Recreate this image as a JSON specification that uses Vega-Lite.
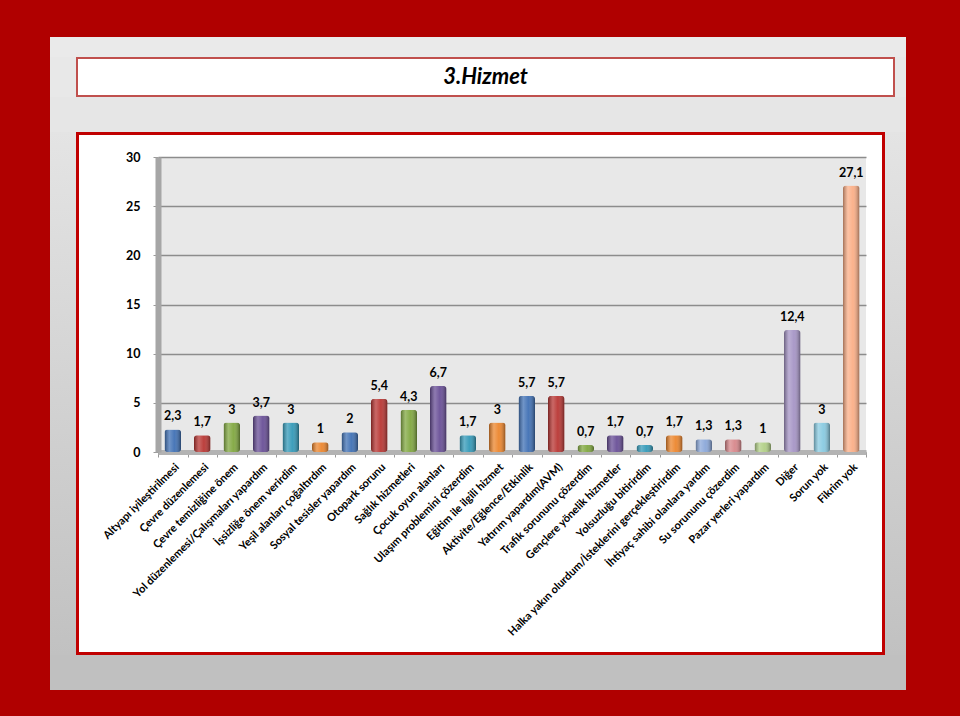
{
  "$schema": "https://vega.github.io/schema/vega-lite/v6.json",
  "padding": 0,
  "background": "white",
  "spacing": 0,
  "config": {
    "locale": {"number": {"decimal": ",", "thousands": ".", "grouping": [3], "currency": ["", " TL"]}},
    "concat": {"spacing": 0},
    "view": {"stroke": null},
    "font": "Lato"
  },
  "datasets": {
    "main": [
      {"cat": "Altyapı iyileştirilmesi", "value": 2.3},
      {"cat": "Çevre düzenlemesi", "value": 1.7},
      {"cat": "Çevre temizliğine önem", "value": 3},
      {"cat": "Yol düzenlemesi/Çalışmaları yapardım", "value": 3.7},
      {"cat": "İşsizliğe önem verirdim", "value": 3},
      {"cat": "Yeşil alanları çoğaltırdım", "value": 1},
      {"cat": "Sosyal tesisler yapardım", "value": 2},
      {"cat": "Otopark sorunu", "value": 5.4},
      {"cat": "Sağlık hizmetleri", "value": 4.3},
      {"cat": "Çocuk oyun alanları", "value": 6.7},
      {"cat": "Ulaşım problemini çözerdim", "value": 1.7},
      {"cat": "Eğitim ile ilgili hizmet", "value": 3},
      {"cat": "Aktivite/Eğlence/Etkinlik", "value": 5.7},
      {"cat": "Yatırım yapardım(AVM)", "value": 5.7},
      {"cat": "Trafik sorununu çözerdim", "value": 0.7},
      {"cat": "Gençlere yönelik hizmetler", "value": 1.7},
      {"cat": "Yolsuzluğu bitirirdim", "value": 0.7},
      {"cat": "Halka yakın olurdum/İsteklerini gerçekleştirirdim", "value": 1.7},
      {"cat": "İhtiyaç sahibi olanlara yardım", "value": 1.3},
      {"cat": "Su sorununu çözerdim", "value": 1.3},
      {"cat": "Pazar yerleri yapardım", "value": 1},
      {"cat": "Diğer", "value": 12.4},
      {"cat": "Sorun yok", "value": 3},
      {"cat": "Fikrim yok", "value": 27.1}
    ]
  },
  "vconcat": [
    {"width": 960, "height": 37, "data": {"values": []}, "mark": "text", "view": {"fill": "#b00000", "stroke": null}},
    {
      "spacing": 0,
      "hconcat": [
        {"width": 50, "height": 653, "data": {"values": []}, "mark": "text", "view": {"fill": "#b00000", "stroke": null}},
        {
          "spacing": 0,
          "vconcat": [
            {"width": 856, "height": 20, "data": {"values": []}, "mark": "text", "view": {"fill": "#eaeaea", "stroke": null}},
            {
              "spacing": 0,
              "hconcat": [
                {"width": 26, "height": 40, "data": {"values": []}, "mark": "text", "view": {"fill": "#e8e8e8", "stroke": null}},
                {
                  "spacing": 0,
                  "vconcat": [
                    {"width": 819, "height": 2, "data": {"values": []}, "mark": "text", "view": {"fill": "#c0504d", "stroke": null}},
                    {
                      "spacing": 0,
                      "hconcat": [
                        {"width": 2, "height": 36, "data": {"values": []}, "mark": "text", "view": {"fill": "#c0504d", "stroke": null}},
                        {
                          "width": 815, "height": 36,
                          "view": {"fill": "white", "stroke": null},
                          "data": {"values": [{"t": "3.Hizmet"}]},
                          "mark": {"type": "text", "font": "Lato", "fontSize": 22, "fontWeight": "bold", "fontStyle": "italic", "color": "black", "align": "center", "baseline": "middle"},
                          "encoding": {"text": {"field": "t", "type": "nominal"}}
                        },
                        {"width": 2, "height": 36, "data": {"values": []}, "mark": "text", "view": {"fill": "#c0504d", "stroke": null}}
                      ]
                    },
                    {"width": 819, "height": 2, "data": {"values": []}, "mark": "text", "view": {"fill": "#c0504d", "stroke": null}}
                  ]
                },
                {"width": 11, "height": 40, "data": {"values": []}, "mark": "text", "view": {"fill": "#e8e8e8", "stroke": null}}
              ]
            },
            {"width": 856, "height": 35, "data": {"values": []}, "mark": "text", "view": {"fill": "#e6e6e6", "stroke": null}},
            {
              "spacing": 0,
              "hconcat": [
                {
                  "width": 26, "height": 523, "data": {"values": [{}]}, "view": {"stroke": null},
                  "mark": {"type": "rect", "fill": {"gradient": "linear", "x1": 0, "x2": 0, "y1": 0, "y2": 1, "stops": [{"offset": 0, "color": "#e4e4e4"}, {"offset": 1, "color": "#c1c1c1"}]}}
                },
                {
                  "spacing": 0,
                  "vconcat": [
                    {"width": 809, "height": 3, "data": {"values": []}, "mark": "text", "view": {"fill": "#c00000", "stroke": null}},
                    {
                      "spacing": 0,
                      "hconcat": [
                        {"width": 3, "height": 517, "data": {"values": []}, "mark": "text", "view": {"fill": "#c00000", "stroke": null}},
                        {
                          "spacing": 0, "bounds": "flush", "columns": 3,
                          "concat": [
                            {"width": 79, "height": 22, "data": {"values": []}, "mark": "text", "view": {"stroke": null}},
                            {"width": 708, "height": 22, "data": {"values": []}, "mark": "text", "view": {"stroke": null}},
                            {"width": 16, "height": 22, "data": {"values": []}, "mark": "text", "view": {"stroke": null}},
                            {"width": 79, "height": 295, "data": {"values": []}, "mark": "text", "view": {"stroke": null}},
                            {
                              "width": 708, "height": 295,
                              "view": {"fill": "#e8e8e8", "stroke": null},
                              "data": {"name": "main"},
                              "encoding": {
                                "x": {
                                  "field": "cat", "type": "nominal", "sort": null,
                                  "scale": {"paddingInner": 0, "paddingOuter": 0},
                                  "axis": {
                                    "title": null, "labelAngle": -45, "labelFont": "Lato", "labelFontWeight": "bold",
                                    "labelFontSize": 11, "labelColor": "#000", "tickBand": "extent", "tickColor": "#999",
                                    "tickSize": 5, "domainColor": "#b3b3b3", "domainWidth": 5, "labelPadding": 4,
                                    "labelLimit": 400, "grid": false
                                  }
                                },
                                "y": {
                                  "field": "value", "type": "quantitative",
                                  "scale": {"domain": [0, 30]},
                                  "axis": {
                                    "title": null, "values": [0, 5, 10, 15, 20, 25, 30], "format": "d",
                                    "labelFont": "Lato", "labelFontWeight": "bold", "labelFontSize": 12.5,
                                    "labelColor": "#000", "gridColor": "#8c8c8c", "gridWidth": 1.5,
                                    "tickColor": "#999", "tickSize": 5, "domainColor": "#a6a6a6", "domainWidth": 6,
                                    "labelPadding": 13
                                  }
                                }
                              },
                              "layer": [
                                {
                                  "mark": {"type": "bar", "width": {"band": 0.56}, "cornerRadius": 3},
                                  "encoding": {
                                    "color": {
                                      "field": "cat", "type": "nominal", "sort": null, "legend": null,
                                      "scale": {"range": ["#3f70b4", "#b83532", "#80a73f", "#684e96", "#3399b8", "#ec852c", "#3f70b4", "#b83532", "#80a73f", "#684e96", "#3399b8", "#ec852c", "#3f70b4", "#b83532", "#80a73f", "#684e96", "#3399b8", "#ec852c", "#8aa7d9", "#d7868a", "#b1cf86", "#a594c5", "#88cae1", "#fbae86"]}
                                    }
                                  }
                                },
                                {
                                  "mark": {
                                    "type": "bar", "width": {"band": 0.56}, "cornerRadius": 3,
                                    "fill": {
                                      "gradient": "linear", "x1": 0, "x2": 1, "y1": 0, "y2": 0,
                                      "stops": [
                                        {"offset": 0, "color": "rgba(0,0,0,0.35)"},
                                        {"offset": 0.3, "color": "rgba(255,255,255,0.25)"},
                                        {"offset": 0.6, "color": "rgba(255,255,255,0.05)"},
                                        {"offset": 1, "color": "rgba(0,0,0,0.4)"}
                                      ]
                                    }
                                  }
                                },
                                {
                                  "mark": {"type": "text", "baseline": "bottom", "dy": -6, "font": "Lato", "fontWeight": "bold", "fontSize": 12.5, "color": "black"},
                                  "encoding": {"text": {"field": "value", "type": "quantitative", "format": ".1~f"}}
                                }
                              ]
                            },
                            {"width": 16, "height": 295, "data": {"values": []}, "mark": "text", "view": {"stroke": null}},
                            {"width": 79, "height": 200, "data": {"values": []}, "mark": "text", "view": {"stroke": null}},
                            {"width": 708, "height": 200, "data": {"values": []}, "mark": "text", "view": {"stroke": null}},
                            {"width": 16, "height": 200, "data": {"values": []}, "mark": "text", "view": {"stroke": null}}
                          ]
                        },
                        {"width": 3, "height": 517, "data": {"values": []}, "mark": "text", "view": {"fill": "#c00000", "stroke": null}}
                      ]
                    },
                    {"width": 809, "height": 3, "data": {"values": []}, "mark": "text", "view": {"fill": "#c00000", "stroke": null}}
                  ]
                },
                {
                  "width": 21, "height": 523, "data": {"values": [{}]}, "view": {"stroke": null},
                  "mark": {"type": "rect", "fill": {"gradient": "linear", "x1": 0, "x2": 0, "y1": 0, "y2": 1, "stops": [{"offset": 0, "color": "#e4e4e4"}, {"offset": 1, "color": "#c1c1c1"}]}}
                }
              ]
            },
            {"width": 856, "height": 35, "data": {"values": []}, "mark": "text", "view": {"fill": "#c0c0c0", "stroke": null}}
          ]
        },
        {"width": 54, "height": 653, "data": {"values": []}, "mark": "text", "view": {"fill": "#b00000", "stroke": null}}
      ]
    },
    {"width": 960, "height": 26, "data": {"values": []}, "mark": "text", "view": {"fill": "#b00000", "stroke": null}}
  ]
}
